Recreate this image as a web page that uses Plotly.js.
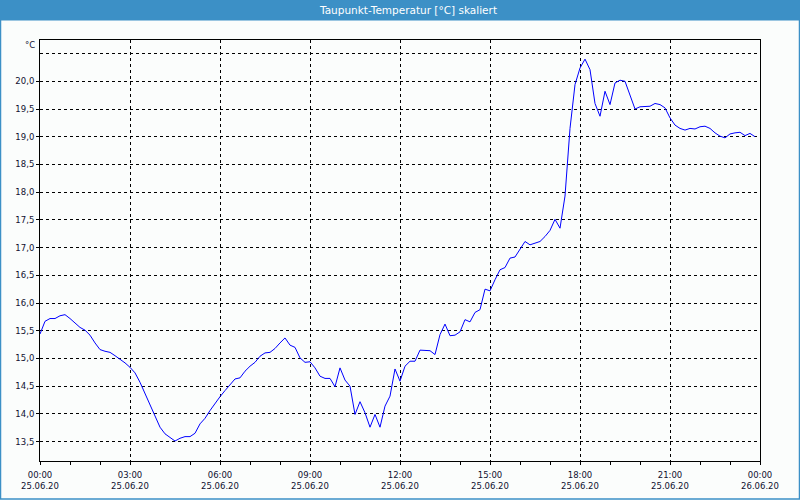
<!DOCTYPE html>
<html>
<head>
<meta charset="utf-8">
<script src="https://cdn.plot.ly/plotly-3.0.1.min.js"></script>
<style>
  html, body { margin: 0; padding: 0; background: #fbfdfc; }
  #chart { width: 800px; height: 500px; }
</style>
</head>
<body>
<div id="chart"></div>
<script>
// Taupunkt-Temperatur, 10-minute samples from 25.06.20 00:00
const startTime = '2020-06-25 00:00';
const stepMs = 10 * 60 * 1000;
const dewPoint = [
  15.44, 15.67, 15.72, 15.72, 15.77, 15.79, 15.72, 15.64, 15.56, 15.51, 15.42, 15.28,
  15.16, 15.13, 15.11, 15.05, 14.99, 14.92, 14.84, 14.74, 14.57, 14.37, 14.17, 13.98,
  13.76, 13.64, 13.58, 13.51, 13.56, 13.59, 13.59, 13.65, 13.82, 13.92, 14.06, 14.19,
  14.31, 14.42, 14.52, 14.63, 14.65, 14.77, 14.86, 14.93, 15.04, 15.10, 15.11, 15.18,
  15.28, 15.37, 15.24, 15.20, 15.01, 14.93, 14.94, 14.83, 14.68, 14.64, 14.64, 14.49,
  14.83, 14.61, 14.50, 13.99, 14.22, 14.02, 13.76, 13.99, 13.76, 14.14, 14.32, 14.81,
  14.59, 14.86, 14.95, 14.95, 15.15, 15.15, 15.14, 15.07, 15.43, 15.62, 15.41, 15.42,
  15.48, 15.70, 15.66, 15.83, 15.88, 16.25, 16.22, 16.42, 16.60, 16.64, 16.81, 16.83,
  16.98, 17.11, 17.05, 17.08, 17.11, 17.20, 17.31, 17.51, 17.35, 17.93, 19.15, 19.94,
  20.24, 20.40, 20.21, 19.60, 19.37, 19.82, 19.58, 19.97, 20.02, 20.00, 19.73, 19.50,
  19.54, 19.54, 19.55, 19.60, 19.58, 19.52, 19.34, 19.21, 19.15, 19.12, 19.15, 19.14,
  19.18, 19.19, 19.15, 19.07, 19.01, 18.98, 19.05, 19.07, 19.08, 19.02, 19.06, 19.00
];

const yTicks = [13.5, 14.0, 14.5, 15.0, 15.5, 16.0, 16.5, 17.0, 17.5, 18.0, 18.5, 19.0, 19.5, 20.0];
const yExtraGrid = [20.5];
const xRange = ['2020-06-25 00:00', '2020-06-26 00:00'];
const yRange = [13.15, 20.745];

const barBlue = '#3c90c6';
const gridDash = '3px,3px';
const labelFont = { family: "'DejaVu Sans', Verdana, sans-serif", size: 8.5, color: '#101030' };

const traces = [{
  type: 'scatter',
  mode: 'lines',
  x0: startTime,
  dx: stepMs,
  y: dewPoint,
  line: { color: '#0000ff', width: 1 },
  hoverinfo: 'skip'
}];

// paper coords of the figure edges (plot area 40..760 x 40..461 px)
const px = x => (x - 40) / 720;
const py = y => (461 - y) / 421;

const layout = {
  width: 800,
  height: 500,
  paper_bgcolor: '#fbfdfc',
  plot_bgcolor: '#fbfdfc',
  margin: { l: 40, r: 40, t: 40, b: 39 },
  showlegend: false,
  separators: ',.',
  title: {
    text: 'Taupunkt-Temperatur [°C] skaliert',
    font: { family: "'DejaVu Sans', Verdana, sans-serif", size: 10.5, color: '#ffffff' },
    x: 408.5 / 800, xref: 'container', xanchor: 'center',
    y: 1 - 10.5 / 500, yref: 'container', yanchor: 'middle'
  },
  xaxis: {
    type: 'date',
    range: xRange,
    dtick: 3 * 3600000,
    tick0: xRange[0],
    tickformat: '%H:%M<br>%d.%m.%y',
    tickfont: labelFont,
    ticklabelstandoff: 3,
    ticks: 'outside',
    ticklen: 3,
    tickcolor: '#000',
    showline: true,
    linecolor: '#000',
    linewidth: 1,
    mirror: true,
    showgrid: true,
    gridcolor: '#000',
    griddash: gridDash,
    gridwidth: 1,
    zeroline: false,
    minor: { dtick: 3600000, ticks: 'outside', ticklen: 3, tickcolor: '#000', showgrid: false },
    fixedrange: true
  },
  yaxis: {
    range: yRange,
    tickmode: 'array',
    tickvals: yTicks,
    tickformat: '.1f',
    tickfont: labelFont,
    ticks: 'outside',
    ticklen: 3,
    tickcolor: '#000',
    showline: true,
    linecolor: '#000',
    linewidth: 1,
    mirror: true,
    showgrid: true,
    gridcolor: '#000',
    griddash: gridDash,
    gridwidth: 1,
    zeroline: false,
    minor: { tickvals: yExtraGrid, showgrid: true, gridcolor: '#000', griddash: gridDash, gridwidth: 1, ticks: '' },
    fixedrange: true
  },
  shapes: [
    // title bar
    {
      type: 'rect', xref: 'paper', yref: 'paper', layer: 'below',
      x0: px(0), x1: px(800), y0: py(20.5), y1: py(0),
      fillcolor: barBlue, line: { width: 0 }
    },
    // outer frame
    {
      type: 'rect', xref: 'paper', yref: 'paper', layer: 'above',
      x0: px(0.5), x1: px(799.5), y0: py(499), y1: py(0.5),
      fillcolor: 'rgba(0,0,0,0)', line: { color: barBlue, width: 1.5 }
    }
  ],
  annotations: [{
    text: '°C',
    xref: 'paper', yref: 'paper',
    x: px(37), y: py(45),
    xanchor: 'right', yanchor: 'middle',
    showarrow: false,
    font: labelFont
  }]
};

Plotly.newPlot('chart', traces, layout, { staticPlot: true, displayModeBar: false });
</script>
</body>
</html>
